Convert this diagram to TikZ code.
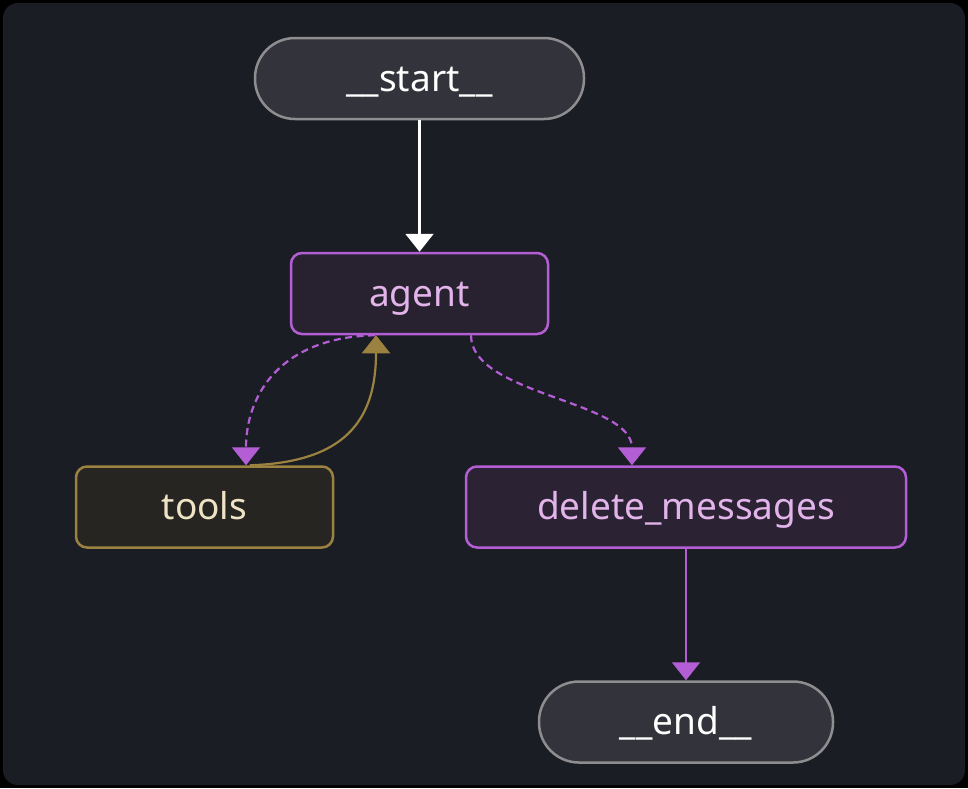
\documentclass[tikz,border=0pt]{standalone}
\usepackage{fontspec}
\setmainfont{Noto Sans}
\usetikzlibrary{arrows.meta}

\definecolor{bgcol}{HTML}{1B1D24}
\definecolor{termfill}{HTML}{33333B}
\definecolor{termline}{HTML}{8E8E90}
\definecolor{purpline}{HTML}{B45ED6}
\definecolor{purpfill}{HTML}{28212F}
\definecolor{delfill}{HTML}{2B2334}
\definecolor{purptext}{HTML}{E2B4EA}
\definecolor{goldline}{HTML}{9C8241}
\definecolor{goldfill}{HTML}{262522}
\definecolor{goldtext}{HTML}{EFE3C6}

\tikzset{
  basenode/.style={draw, line width=2.5pt, minimum height=81pt,
    text height=27pt, text depth=2pt,
    font=\fontsize{37}{42}\selectfont},
  terminal/.style={basenode, fill=termfill, draw=termline, text=white,
    rounded corners=40pt},
  agentbox/.style={basenode, fill=purpfill, draw=purpline, text=purptext,
    rounded corners=11pt},
  toolbox/.style={basenode, fill=goldfill, draw=goldline, text=goldtext,
    rounded corners=11pt},
  tip/.style={-{Triangle[width=28pt,length=18pt]}},
  edge/.style={tip, line width=2.2pt},
  condedge/.style={edge, draw=purpline, dash pattern=on 7pt off 4.5pt}
}

\begin{document}
\begin{tikzpicture}[x=1pt,y=-1pt]
  % Frame
  \fill[black] (0,0) rectangle (968,788);
  \fill[bgcol, rounded corners=15pt] (3,3) rectangle (965,785);
  \useasboundingbox (0,0) rectangle (968,788);

  % Nodes
  \node[terminal, minimum width=329pt] (start) at (419.5,78.5) {\_\_start\_\_};
  \node[agentbox, minimum width=257pt] (agent) at (419.5,293.5) {agent};
  \node[toolbox, minimum width=257pt] (tools) at (204.5,507) {tools};
  \node[agentbox, minimum width=440pt, fill=delfill] (delete) at (686,507) {delete\_messages};
  \node[terminal, minimum width=294pt] (end) at (686,722) {\_\_end\_\_};

  % Edges
  \draw[edge, white] (start.south) -- (agent.north);
  \draw[condedge] ([xshift=-44.5pt]agent.south)
      .. controls +(-95,2) and +(0,-70) .. ([xshift=41.5pt]tools.north);
  \draw[edge, goldline] ([xshift=45.5pt]tools.north)
      .. controls +(95,-3) and +(0,85) .. ([xshift=-43.5pt]agent.south);
  \draw[condedge] ([xshift=51.5pt]agent.south)
      .. controls +(0,60) and +(0,-65) .. ([xshift=-54pt]delete.north);
  \draw[edge, purpline] (delete.south) -- (end.north);
\end{tikzpicture}
\end{document}
